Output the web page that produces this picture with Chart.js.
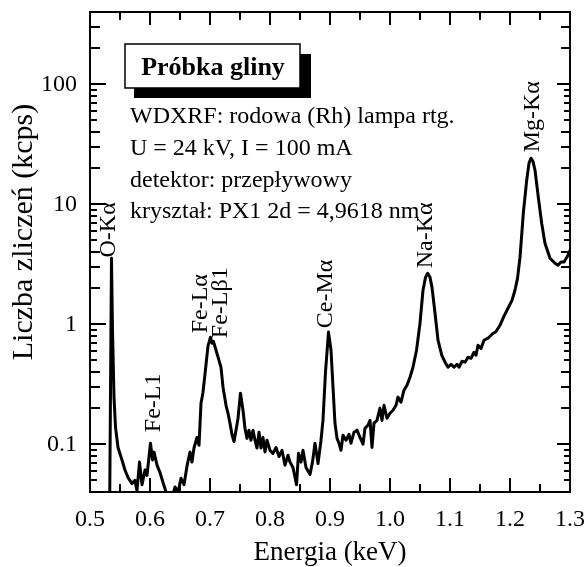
<!DOCTYPE html>
<html><head><meta charset="utf-8">
<script src="https://cdn.jsdelivr.net/npm/chart.js@4.4.0/dist/chart.umd.min.js"></script>
<style>html,body{margin:0;padding:0;background:#fff;}#wrap{width:585px;height:567px;}</style>
</head><body><div id="wrap"><canvas id="c" width="585" height="567"></canvas></div>
<script>
// ---- data ----
const energy = [
0.5328,0.5358,0.5375,0.5400,0.5425,0.5467,0.5533,0.5583,0.5633,0.5700,
0.5750,0.5783,0.5825,0.5867,0.5917,0.5950,0.6008,0.6042,0.6067,0.6117,
0.6167,0.6217,0.6267,0.6317,0.6367,0.6417,0.6467,0.6517,0.6567,0.6617,
0.6667,0.6700,0.6733,0.6783,0.6817,0.6850,0.6883,0.6925,0.6967,0.7008,
0.7033,0.7058,0.7100,0.7150,0.7183,0.7217,0.7267,0.7300,0.7333,0.7367,
0.7400,0.7433,0.7467,0.7508,0.7550,0.7583,0.7617,0.7650,0.7683,0.7717,
0.7750,0.7783,0.7817,0.7850,0.7883,0.7917,0.7950,0.8000,0.8050,0.8100,
0.8150,0.8200,0.8250,0.8300,0.8333,0.8383,0.8442,0.8475,0.8517,0.8550,
0.8600,0.8667,0.8708,0.8750,0.8800,0.8850,0.8883,0.8925,0.8975,0.9017,
0.9050,0.9083,0.9117,0.9150,0.9183,0.9217,0.9267,0.9317,0.9350,0.9400,
0.9450,0.9500,0.9550,0.9583,0.9633,0.9667,0.9700,0.9733,0.9783,0.9833,
0.9867,0.9900,0.9950,1.0000,1.0050,1.0100,1.0133,1.0183,1.0233,1.0283,
1.0333,1.0383,1.0442,1.0500,1.0550,1.0592,1.0628,1.0667,1.0700,1.0750,
1.0800,1.0862,1.0917,1.0967,1.1017,1.1067,1.1117,1.1150,1.1200,1.1250,
1.1300,1.1350,1.1400,1.1433,1.1467,1.1517,1.1567,1.1633,1.1700,1.1767,
1.1833,1.1900,1.1967,1.2033,1.2083,1.2125,1.2167,1.2222,1.2278,1.2317,
1.2350,1.2383,1.2417,1.2472,1.2528,1.2583,1.2667,1.2750,1.2800,1.2850,
1.2900,1.2967,1.3000];
const counts = [
0.030,3.55,0.89,0.247,0.139,0.094,0.074,0.061,0.053,0.047,
0.050,0.041,0.071,0.046,0.061,0.055,0.102,0.074,0.086,0.067,
0.058,0.048,0.040,0.034,0.036,0.044,0.040,0.052,0.046,0.066,
0.086,0.071,0.093,0.114,0.098,0.22,0.27,0.42,0.66,0.78,
0.695,0.72,0.607,0.50,0.438,0.299,0.211,0.181,0.15,0.12,
0.105,0.13,0.165,0.266,0.192,0.136,0.112,0.131,0.108,0.131,
0.108,0.093,0.126,0.093,0.114,0.086,0.108,0.089,0.084,0.094,
0.079,0.089,0.067,0.081,0.071,0.064,0.046,0.084,0.071,0.089,
0.064,0.056,0.071,0.102,0.069,0.108,0.158,0.40,0.86,0.607,
0.30,0.15,0.112,0.102,0.089,0.119,0.108,0.121,0.102,0.126,
0.131,0.114,0.100,0.136,0.144,0.158,0.094,0.150,0.158,0.200,
0.158,0.211,0.165,0.181,0.192,0.211,0.247,0.224,0.282,0.310,
0.362,0.438,0.607,1.02,1.92,2.46,2.66,2.46,2.03,1.24,
0.736,0.552,0.483,0.438,0.464,0.438,0.464,0.438,0.492,0.483,
0.531,0.520,0.584,0.552,0.668,0.630,0.736,0.765,0.826,0.870,
0.980,1.17,1.36,1.58,1.92,2.41,3.62,8.41,15.8,22.0,
24.2,22.8,19.2,11.4,6.95,4.73,3.55,3.22,3.10,3.30,
3.30,3.76,4.14];

const xTickValues = [0.5,0.6,0.7,0.8,0.9,1.0,1.1,1.2,1.3];
const yTickValues = [0.1,1,10,100];
const yTickLabels = ['0.1','1','10','100'];

const peakNames  = ['O-K\u03B1','Fe-L1','Fe-L\u03B1','Fe-L\u03B21','Ce-M\u03B1','Na-K\u03B1','Mg-K\u03B1'];
const peakLabelX = [0.5308,0.6058,0.6850,0.7183,0.8933,1.0600,1.2383];
const peakLabelY = [3.6,0.126,0.84,0.765,0.926,2.93,27.1];

const sampleTitle = 'Próbka gliny';
const infoLines = [
  'WDXRF: rodowa (Rh) lampa rtg.',
  'U = 24 kV, I = 100 mA',
  'detektor: przepływowy',
  'kryształ: PX1 2d = 4,9618 nm'
];
const xTitle = 'Energia (keV)';
const yTitle = 'Liczba zliczeń (kcps)';

const SERIF = '"Liberation Serif","Times New Roman",serif';

const decorPlugin = {
  id: 'decor',
  afterDatasetsDraw(chart) {
    const ctx = chart.ctx;
    const xs = chart.scales.x, ys = chart.scales.y;
    const L = xs.getPixelForValue(0.5), R = xs.getPixelForValue(1.3);
    const T = ys.getPixelForValue(400), B = ys.getPixelForValue(0.04);
    ctx.save();
    ctx.strokeStyle = '#000';
    ctx.lineWidth = 2;
    ctx.strokeRect(L, T, R - L, B - T);
    // x ticks (inward)
    ctx.beginPath();
    for (let i = 0; i <= 16; i++) {
      const v = 0.5 + i * 0.05;
      const p = Math.round(xs.getPixelForValue(v));
      const major = i % 2 === 0;
      ctx.moveTo(p, B); ctx.lineTo(p, B - (major ? 14 : 8));
      ctx.moveTo(p, T); ctx.lineTo(p, T + (major ? 13 : 8));
    }
    // y ticks (inward)
    for (let d = -2; d <= 2; d++) {
      for (let m = 1; m <= 9; m++) {
        const v = m * Math.pow(10, d);
        if (v < 0.0399 || v > 400.1) continue;
        const p = Math.round(ys.getPixelForValue(v));
        const ll = m === 1 ? 16 : (m <= 4 ? 10 : 7);
        const lr = m === 1 ? 13 : (m <= 4 ? 9 : 6);
        ctx.moveTo(L, p); ctx.lineTo(L + ll, p);
        ctx.moveTo(R, p); ctx.lineTo(R - lr, p);
      }
    }
    ctx.stroke();

    // sample title box with shadow
    ctx.fillStyle = '#000';
    ctx.fillRect(L + 44, T + 42, 177, 44);
    ctx.fillStyle = '#fff';
    ctx.fillRect(L + 35, T + 32, 175, 44);
    ctx.lineWidth = 1.5;
    ctx.strokeRect(L + 35, T + 32, 175, 44);
    ctx.fillStyle = '#000';
    ctx.font = 'bold 26px ' + SERIF;
    ctx.textAlign = 'center';
    ctx.textBaseline = 'alphabetic';
    ctx.fillText(sampleTitle, L + 123, T + 63);

    // info lines
    ctx.font = '24px ' + SERIF;
    ctx.textAlign = 'left';
    const base = [123, 155, 187, 218];
    infoLines.forEach((s, i) => ctx.fillText(s, L + 40, base[i]));

    // peak labels (rotated)
    ctx.font = '24px ' + SERIF;
    ctx.textBaseline = 'middle';
    peakNames.forEach((s, i) => {
      const px = xs.getPixelForValue(peakLabelX[i]);
      const py = ys.getPixelForValue(peakLabelY[i]);
      ctx.save();
      ctx.translate(px, py);
      ctx.rotate(-Math.PI / 2);
      ctx.textAlign = 'left';
      ctx.fillText(s, 0, 0);
      ctx.restore();
    });

    // axis titles
    ctx.font = '27px ' + SERIF;
    ctx.textAlign = 'center';
    ctx.textBaseline = 'alphabetic';
    ctx.fillText(xTitle, (L + R) / 2, 560);
    ctx.save();
    ctx.font = '30px ' + SERIF;
    ctx.translate(32, 232);
    ctx.rotate(-Math.PI / 2);
    ctx.fillText(yTitle, 0, 0);
    ctx.restore();
    ctx.restore();
  }
};

const zeroPad = s => { s.paddingTop = 0; s.paddingBottom = 0; s.paddingLeft = 0; s.paddingRight = 0; };

new Chart(document.getElementById('c'), {
  type: 'line',
  data: {
    datasets: [{
      data: energy.map((e, i) => ({ x: e, y: counts[i] })),
      borderColor: '#000',
      borderWidth: 3,
      pointRadius: 0,
      tension: 0,
      fill: false,
      borderJoinStyle: 'round',
      clip: 0
    }]
  },
  options: {
    responsive: false,
    animation: false,
    devicePixelRatio: 1,
    layout: { padding: { top: 12, right: 15, left: 0, bottom: 0 } },
    plugins: { legend: { display: false }, tooltip: { enabled: false } },
    scales: {
      x: {
        type: 'linear', min: 0.5, max: 1.3,
        grid: { display: false, drawTicks: false },
        border: { display: false },
        ticks: {
          autoSkip: false, maxRotation: 0, padding: 13, color: '#000',
          font: { family: SERIF, size: 24 },
          callback: v => v.toFixed(1)
        },
        afterBuildTicks: s => { s.ticks = xTickValues.map(v => ({ value: v })); },
        afterFit: s => { s.height = 75; zeroPad(s); }
      },
      y: {
        type: 'logarithmic', min: 0.04, max: 400,
        grid: { display: false, drawTicks: false },
        border: { display: false },
        ticks: {
          autoSkip: false, padding: 13, color: '#000',
          font: { family: SERIF, size: 24 },
          callback: (v) => { const k = yTickValues.indexOf(v); return k >= 0 ? yTickLabels[k] : ''; }
        },
        afterBuildTicks: s => { s.ticks = yTickValues.map(v => ({ value: v })); },
        afterFit: s => { s.width = 90; zeroPad(s); }
      }
    }
  },
  plugins: [decorPlugin]
});
</script></body></html>
